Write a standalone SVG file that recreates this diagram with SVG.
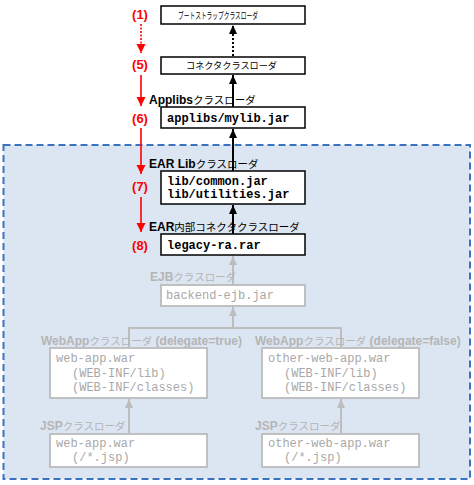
<svg xmlns="http://www.w3.org/2000/svg" width="474" height="485" viewBox="0 0 474 485">
<style>
.box{fill:#fff;stroke:#000;stroke-width:1.5}
.gbox{fill:#fff;stroke:#c0c0c0;stroke-width:2}
.mono{font-family:"Liberation Mono","Courier New",monospace;font-size:12px;font-weight:bold;fill:#000}
.gmono{font-family:"Liberation Mono","Courier New",monospace;font-size:12px;fill:#a8a8a8}
.lbl{font-family:"Liberation Sans",Arial,"Noto Sans CJK JP",sans-serif;font-size:12px;font-weight:bold;fill:#000}
.glbl{font-family:"Liberation Sans",Arial,"Noto Sans CJK JP",sans-serif;font-size:12px;font-weight:bold;fill:#b5b5b5}
.jp{font-family:"Noto Sans CJK JP",sans-serif;font-weight:normal;font-size:10.5px}
.num{font-family:"Liberation Sans",Arial,sans-serif;font-size:13px;font-weight:bold;fill:#ff0000}
.blk{stroke:#000;stroke-width:2;fill:none}
.red{stroke:#ff0000;stroke-width:1.6;fill:none}
.gry{stroke:#bdbdbd;stroke-width:2;fill:none}
</style>
<defs>
<marker id="ab" markerUnits="userSpaceOnUse" markerWidth="10" markerHeight="10" refX="9" refY="5" orient="auto"><path d="M0,1 L9,5 L0,9 z" fill="#000"/></marker>
<marker id="ar" markerUnits="userSpaceOnUse" markerWidth="10" markerHeight="10" refX="9" refY="5" orient="auto"><path d="M0,0.5 L9,5 L0,9.5 z" fill="#ff0000"/></marker>
<marker id="ag" markerUnits="userSpaceOnUse" markerWidth="10" markerHeight="10" refX="9" refY="5" orient="auto"><path d="M0,1 L9,5 L0,9 z" fill="#bdbdbd"/></marker>
</defs>
<rect id="ear-container" x="3.5" y="145" width="466.5" height="334" fill="#dce6f2" stroke="#3a73c0" stroke-width="2" stroke-dasharray="7,4"/>
<g id="connectors">
<line class="blk" x1="233" y1="56" x2="233" y2="25" stroke-dasharray="2,2" marker-end="url(#ab)"/>
<line class="blk" x1="233" y1="107" x2="233" y2="75" marker-end="url(#ab)"/>
<line class="blk" x1="233" y1="171" x2="233" y2="129" marker-end="url(#ab)"/>
<line class="blk" x1="233" y1="234" x2="233" y2="205" marker-end="url(#ab)"/>
<line class="gry" x1="233" y1="285" x2="233" y2="256" marker-end="url(#ag)"/>
<path class="gry" d="M129,348 V328 H341 V348 M233,328 V307" marker-end="url(#ag)"/>
<line class="gry" x1="129" y1="434" x2="129" y2="399" marker-end="url(#ag)"/>
<line class="gry" x1="341" y1="434" x2="341" y2="399" marker-end="url(#ag)"/>
<line class="red" x1="141" y1="24" x2="141" y2="53" stroke-dasharray="2,1.5" marker-end="url(#ar)"/>
<line class="red" x1="141" y1="75" x2="141" y2="106" marker-end="url(#ar)"/>
<line class="red" x1="141" y1="128" x2="141" y2="174" marker-end="url(#ar)"/>
<line class="red" x1="141" y1="197" x2="141" y2="232" marker-end="url(#ar)"/>
</g>
<g id="n1"><text class="num" x="140" y="19" text-anchor="middle">(1)</text></g>
<g id="n5"><text class="num" x="140" y="69" text-anchor="middle">(5)</text></g>
<g id="n6"><text class="num" x="140" y="123" text-anchor="middle">(6)</text></g>
<g id="n7"><text class="num" x="140" y="191" text-anchor="middle">(7)</text></g>
<g id="n8"><text class="num" x="140" y="250" text-anchor="middle">(8)</text></g>
<g id="bootstrap">
<rect class="box" x="161" y="6" width="144" height="18"/>
<text x="178" y="19" font-family="Noto Sans CJK JP,sans-serif" font-size="9" textLength="80" lengthAdjust="spacingAndGlyphs">ブートストラップクラスローダ</text>
</g>
<g id="connector-loader">
<rect class="box" x="161" y="57" width="144" height="17"/>
<text x="186" y="69" font-family="Noto Sans CJK JP,sans-serif" font-size="9.5" textLength="91" lengthAdjust="spacingAndGlyphs">コネクタクラスローダ</text>
</g>
<g id="applibs">
<text class="lbl" x="149" y="104">Applibs<tspan class="jp">クラスローダ</tspan></text>
<rect class="box" x="161" y="107" width="144" height="21"/>
<text class="mono" x="167" y="122">applibs/mylib.jar</text>
</g>
<g id="earlib">
<text class="lbl" x="149" y="168">EAR Lib<tspan class="jp">クラスローダ</tspan></text>
<rect class="box" x="161" y="171" width="144" height="33"/>
<text class="mono" x="167" y="185">lib/common.jar</text>
<text class="mono" x="167" y="198">lib/utilities.jar</text>
</g>
<g id="legacy">
<text class="lbl" x="149" y="231">EAR<tspan class="jp">内部コネクタクラスローダ</tspan></text>
<rect class="box" x="161" y="234" width="144" height="21"/>
<text class="mono" x="167" y="249">legacy-ra.rar</text>
</g>
<g id="ejb">
<text class="glbl" x="150" y="281">EJB<tspan class="jp">クラスローダ</tspan></text>
<rect class="gbox" x="161" y="285" width="144" height="21"/>
<text class="gmono" x="166" y="299">backend-ejb.jar</text>
</g>
<g id="webapp1">
<text class="glbl" x="41" y="345">WebApp<tspan class="jp">クラスローダ</tspan> (delegate=true)</text>
<rect class="gbox" x="50" y="348" width="157" height="50"/>
<text class="gmono" x="56" y="362">web-app.war</text>
<text class="gmono" x="72" y="377">(WEB-INF/lib)</text>
<text class="gmono" x="72" y="391">(WEB-INF/classes)</text>
</g>
<g id="webapp2">
<text class="glbl" x="255" y="345">WebApp<tspan class="jp">クラスローダ</tspan> (delegate=false)</text>
<rect class="gbox" x="262" y="348" width="157" height="50"/>
<text class="gmono" x="268" y="362">other-web-app.war</text>
<text class="gmono" x="284" y="377">(WEB-INF/lib)</text>
<text class="gmono" x="284" y="391">(WEB-INF/classes)</text>
</g>
<g id="jsp1">
<text class="glbl" x="40" y="430">JSP<tspan class="jp">クラスローダ</tspan></text>
<rect class="gbox" x="50" y="434" width="157" height="33"/>
<text class="gmono" x="56" y="447">web-app.war</text>
<text class="gmono" x="72" y="461">(/*.jsp)</text>
</g>
<g id="jsp2">
<text class="glbl" x="255" y="430">JSP<tspan class="jp">クラスローダ</tspan></text>
<rect class="gbox" x="262" y="434" width="157" height="33"/>
<text class="gmono" x="268" y="447">other-web-app.war</text>
<text class="gmono" x="284" y="461">(/*.jsp)</text>
</g>
</svg>
